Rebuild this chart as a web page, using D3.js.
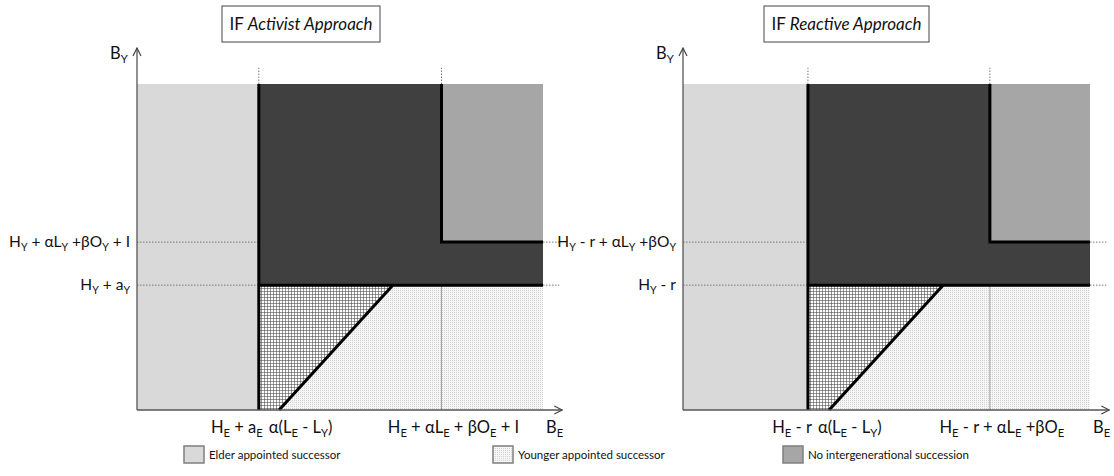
<!DOCTYPE html>
<html>
<head>
<meta charset="utf-8">
<script src="https://cdn.jsdelivr.net/npm/d3@7"></script>
<style>
  body { margin: 0; background: #fff; }
  text { font-family: Lato, "Open Sans", sans-serif; fill: #111; }
</style>
</head>
<body>
<script>
// threshold values (abstract units, 0-100 on both axes)
var titles = ["Activist Approach", "Reactive Approach"];
var xBreaksA = [30, 35, 63, 75];     // elder threshold, diagonal foot, diagonal top, no-succession threshold
var yBreaksA = [38.3, 51.5];         // young threshold, no-succession threshold
var xBreaksR = [30.7, 35.9, 63.9, 75.4];
var yBreaksR = [38.3, 51.5];
var xLabelsA = ["H_E + a_E", "α(L_E - L_Y)", "H_E + αL_E + βO_E + I"];
var yLabelsA = ["H_Y + a_Y", "H_Y + αL_Y +βO_Y + I"];
var xLabelsR = ["H_E - r", "α(L_E - L_Y)", "H_E - r + αL_E +βO_E"];
var yLabelsR = ["H_Y - r", "H_Y - r + αL_Y +βO_Y"];
var legendLabels = ["Elder appointed successor", "Younger appointed successor", "No intergenerational succession"];

var fs = 16.5;

var svg = d3.select("body").append("svg").attr("width", 1114).attr("height", 476);

var defs = svg.append("defs");
var grid = defs.append("pattern").attr("id", "grid").attr("patternUnits", "userSpaceOnUse")
  .attr("width", 3).attr("height", 3);
grid.append("rect").attr("width", 3).attr("height", 3).attr("fill", "#fff");
grid.append("path").attr("d", "M0,0.5H3M0.5,0V3").attr("stroke", "#444").attr("stroke-width", 0.55);

var dots = defs.append("pattern").attr("id", "dots").attr("patternUnits", "userSpaceOnUse")
  .attr("width", 2).attr("height", 2);
dots.append("rect").attr("width", 2).attr("height", 2).attr("fill", "#f6f6f6");
dots.append("rect").attr("width", 1).attr("height", 1).attr("fill", "#d2d2d2");

var arrow = defs.append("marker").attr("id", "arr").attr("viewBox", "0 0 10 10")
  .attr("refX", 9).attr("refY", 5).attr("markerWidth", 10).attr("markerHeight", 10)
  .attr("markerUnits", "userSpaceOnUse").attr("orient", "auto");
arrow.append("path").attr("d", "M1,1L9,5L1,9").attr("fill", "none").attr("stroke", "#444").attr("stroke-width", 1.2);

// writes "H_E + a_E" with the letter after _ as a subscript
function rich(t, str, size) {
  var parts = str.split(/(_.)/).filter(function(p){ return p.length; });
  var down = false;
  parts.forEach(function(p) {
    if (p[0] == "_") {
      t.append("tspan").attr("font-size", size * 0.68).attr("dy", 4).text(p[1]);
      down = true;
    } else {
      t.append("tspan").attr("dy", down ? -4 : 0).text(p);
      down = false;
    }
  });
  return t;
}

function panel(x0, x1, title, xb, yb, xl, yl, tx, tw) {
  var x = d3.scaleLinear().domain([0, 100]).range([x0, x1]);
  var y = d3.scaleLinear().domain([0, 100]).range([410, 84]);
  var g = svg.append("g");
  var line = d3.line().x(function(d){ return x(d[0]); }).y(function(d){ return y(d[1]); });

  var areas = [
    { pts: [[0,0],[xb[0],0],[xb[0],100],[0,100]], fill: "#d9d9d9" },
    { pts: [[xb[0],yb[0]],[100,yb[0]],[100,yb[1]],[xb[3],yb[1]],[xb[3],100],[xb[0],100]], fill: "#404040" },
    { pts: [[xb[3],yb[1]],[100,yb[1]],[100,100],[xb[3],100]], fill: "#a6a6a6" },
    { pts: [[xb[1],0],[100,0],[100,yb[0]],[xb[2],yb[0]]], fill: "url(#dots)" },
    { pts: [[xb[0],0],[xb[1],0],[xb[2],yb[0]],[xb[0],yb[0]]], fill: "url(#grid)" }
  ];
  g.selectAll("path.area").data(areas).enter().append("path")
    .attr("class", "area")
    .attr("d", function(d){ return line(d.pts) + "Z"; })
    .attr("fill", function(d){ return d.fill; });

  // dotted guides
  var dash = [
    [[xb[0],100],[xb[0],105]], [[xb[3],100],[xb[3],105]],
    [[0,yb[0]],[xb[0],yb[0]]], [[0,yb[1]],[xb[0],yb[1]]],
    [[100,yb[0]],[104,yb[0]]], [[100,yb[1]],[104,yb[1]]]
  ];
  g.selectAll("path.dash").data(dash).enter().append("path")
    .attr("class", "dash").attr("d", line)
    .attr("stroke", "#777").attr("stroke-width", 1).attr("stroke-dasharray", "1.5,1.5").attr("fill", "none");
  g.append("path").attr("d", line([[xb[3],0],[xb[3],yb[0]]]))
    .attr("stroke", "#666").attr("stroke-width", 0.6).attr("fill", "none");

  // thick boundaries
  var bounds = [
    [[xb[0],0],[xb[0],100]],
    [[xb[0],yb[0]],[100,yb[0]]],
    [[xb[1],0],[xb[2],yb[0]]],
    [[xb[3],100],[xb[3],yb[1]],[100,yb[1]]]
  ];
  g.selectAll("path.bound").data(bounds).enter().append("path")
    .attr("class", "bound").attr("d", line)
    .attr("stroke", "#000").attr("stroke-width", 3).attr("fill", "none");

  // axes
  g.append("line").attr("x1", x(0)).attr("y1", y(0)).attr("x2", x(0)).attr("y2", 48)
    .attr("stroke", "#555").attr("stroke-width", 1.3).attr("marker-end", "url(#arr)");
  g.append("line").attr("x1", x(0)).attr("y1", y(0)).attr("x2", x(104.5) + 1).attr("y2", y(0))
    .attr("stroke", "#555").attr("stroke-width", 1.3).attr("marker-end", "url(#arr)");

  rich(g.append("text").attr("x", x(0) - 27).attr("y", 59).attr("font-size", fs), "B_Y", fs);
  rich(g.append("text").attr("x", x(100) + 3).attr("y", 433).attr("font-size", fs), "B_E", fs);

  rich(g.append("text").attr("x", x(xb[0]) + 4).attr("y", 433).attr("font-size", fs).attr("text-anchor", "end"), xl[0], fs);
  rich(g.append("text").attr("x", x(xb[0]) + 10).attr("y", 433).attr("font-size", fs), xl[1], fs);
  rich(g.append("text").attr("x", x(xb[3]) + 12).attr("y", 433).attr("font-size", fs).attr("text-anchor", "middle"), xl[2], fs);

  yl.forEach(function(s, i) {
    rich(g.append("text").attr("x", x(0) - 7).attr("y", y(yb[i]) + 5).attr("font-size", 15.5).attr("text-anchor", "end"), s, 15.5);
  });

  // title box
  g.append("rect").attr("x", tx).attr("y", 6).attr("width", tw).attr("height", 36)
    .attr("fill", "#fff").attr("stroke", "#444").attr("stroke-width", 1);
  var t = g.append("text").attr("x", tx + tw / 2).attr("y", 30).attr("font-size", 17).attr("text-anchor", "middle");
  t.append("tspan").text("IF ");
  t.append("tspan").attr("font-style", "italic").text(title);
}

panel(137, 543, titles[0], xBreaksA, yBreaksA, xLabelsA, yLabelsA, 222, 158);
panel(683, 1090, titles[1], xBreaksR, yBreaksR, xLabelsR, yLabelsR, 764, 165);

// legend
var legFill = ["#d9d9d9", "url(#dots)", "#a6a6a6"];
var legX = [184, 493, 783];
var leg = svg.selectAll("g.leg").data(legendLabels).enter().append("g").attr("class", "leg")
  .attr("transform", function(d, i){ return "translate(" + legX[i] + ",446)"; });
leg.append("rect").attr("width", 20).attr("height", 17)
  .attr("fill", function(d, i){ return legFill[i]; }).attr("stroke", "#7f7f7f").attr("stroke-width", 1.5);
leg.append("text").attr("x", 25).attr("y", 13).attr("font-size", 11.5).text(function(d){ return d; });
</script>
</body>
</html>
